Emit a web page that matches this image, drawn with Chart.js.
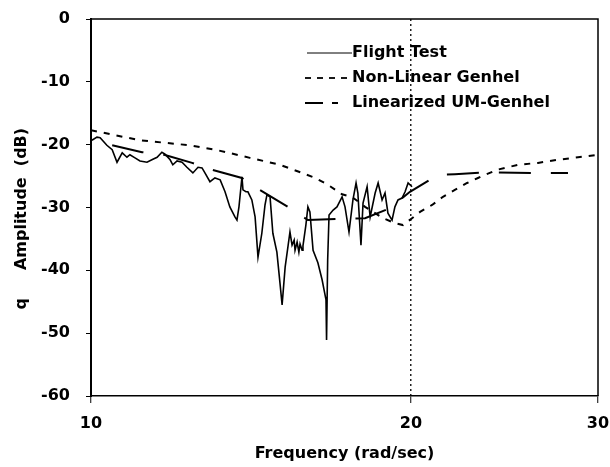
<!DOCTYPE html>
<html>
<head>
<meta charset="utf-8">
<title>q Amplitude</title>
<script src="https://cdn.jsdelivr.net/npm/chart.js@4/dist/chart.umd.min.js"></script>
<style>
    html, body { margin: 0; padding: 0; background: #fff; }
    #chart-box { width: 610px; height: 467px; }
</style>
</head>
<body>
<div id="chart-box"><canvas id="amp-chart" width="610" height="467"></canvas></div>
<script>
// ── 數據 (rad/sec, dB) ──
const flightFreq = [
    10.02, 10.13, 10.20, 10.35, 10.47, 10.58, 10.70, 10.81, 10.88, 11.00,
    11.12, 11.29, 11.41, 11.54, 11.66, 11.74, 11.87, 11.94, 12.05, 12.18,
    12.31, 12.47, 12.61, 12.72, 12.80, 12.94, 13.08, 13.23, 13.37, 13.51,
    13.66, 13.72, 13.78, 13.84, 13.87, 13.90, 13.99, 14.05, 14.17, 14.27,
    14.36, 14.48, 14.58, 14.64, 14.74, 14.83, 14.96, 15.06, 15.13, 15.23,
    15.33, 15.39, 15.46, 15.53, 15.56, 15.63, 15.69, 15.73, 15.80, 15.83,
    15.93, 16.00, 16.07, 16.18, 16.35, 16.50, 16.57, 16.64, 16.66, 16.70,
    16.75, 16.90, 17.04, 17.23, 17.34, 17.49, 17.64, 17.76, 17.83, 17.95,
    18.03, 18.19, 18.31, 18.51, 18.63, 18.79, 18.91, 19.03, 19.20, 19.32,
    19.45, 19.62, 19.75, 19.88, 20.05
];
const flightAmp = [
    -19.3, -18.8, -18.9, -20.1, -20.8, -22.8, -21.3, -22.0, -21.6, -22.1,
    -22.6, -22.8, -22.4, -22.0, -21.2, -21.5, -22.4, -23.2, -22.6, -22.8,
    -23.6, -24.5, -23.6, -23.7, -24.5, -25.9, -25.3, -25.6, -27.5, -29.9,
    -31.5, -32.0, -29.9, -26.7, -25.1, -27.2, -27.5, -27.5, -28.8, -31.5,
    -37.9, -34.1, -29.6, -28.0, -28.3, -34.1, -37.1, -42.0, -45.5, -39.5,
    -36.0, -33.9, -36.0, -35.2, -36.8, -35.5, -37.1, -35.8, -36.8, -36.1,
    -32.8, -29.9, -30.7, -36.8, -38.8, -41.5, -43.1, -44.7, -51.1, -38.4,
    -31.2, -30.4, -29.9, -28.3, -29.9, -33.9, -28.8, -26.1, -27.7, -36.0,
    -29.3, -26.7, -31.5, -27.7, -26.1, -28.8, -27.7, -30.9, -32.0, -29.9,
    -28.8, -28.5, -27.5, -26.1, -26.7
];

const nonlinFreq = [
    10.00, 11.12, 12.39, 13.17, 14.11, 15.06, 15.80, 16.25, 16.68, 17.23,
    17.60, 18.11, 18.51, 18.83, 19.32, 19.66, 20.05, 20.40, 20.94, 21.44,
    22.00, 22.59, 23.13, 24.10, 25.23, 26.34, 27.51, 28.73, 30.00
];
const nonlinAmp = [
    -17.7, -19.3, -20.1, -20.9, -22.1, -23.2, -24.5, -25.3, -26.3, -27.9,
    -28.3, -29.9, -30.9, -31.7, -32.5, -32.8, -31.7, -30.7, -29.6, -28.3,
    -27.2, -26.1, -25.3, -24.0, -23.2, -22.9, -22.4, -22.0, -21.6
];

const linFreq = [
    10.47, 11.17, 11.66, 12.45, 13.00, 13.87, 14.42, 15.39, 16.00, 17.15,
    18.11, 19.12, 19.96, 21.21, 22.00, 23.59, 26.17, 28.11
];
const linAmp = [
    -20.1, -21.2, -21.5, -22.9, -24.0, -25.3, -27.2, -30.1, -32.0, -31.8,
    -31.7, -30.1, -27.5, -24.8, -24.7, -24.4, -24.5, -24.5
];

const xTicks = [10, 20, 30];
const seriesNames = ['Flight Test', 'Non-Linear Genhel', 'Linearized UM-Genhel'];

const FONT = { family: '"DejaVu Sans", sans-serif', size: 16, weight: 'bold' };

const toPoints = (xs, ys) => xs.map((x, i) => ({ x: x, y: ys[i] }));

// ── 外框 + 圖例 ──
const framePlugin = {
    id: 'frameLegend',
    afterDatasetsDraw(chart, args, opts) {
        const { ctx, chartArea: a } = chart;
        ctx.save();
        ctx.strokeStyle = '#000';
        ctx.lineWidth = 1.5;
        ctx.beginPath();
        ctx.moveTo(a.left, a.top);
        ctx.lineTo(a.right, a.top);
        ctx.lineTo(a.right, a.bottom);
        ctx.stroke();

        // 自訂圖例
        ctx.font = `bold ${FONT.size}px ${FONT.family}`;
        ctx.fillStyle = '#000';
        ctx.textBaseline = 'middle';
        chart.data.datasets.forEach((ds, i) => {
            const y = opts.y0 + i * opts.dy;
            const s = opts.samples[i];
            ctx.lineWidth = s.width;
            ctx.setLineDash(s.dash);
            ctx.beginPath();
            ctx.moveTo(s.x0, y);
            ctx.lineTo(s.x1, y);
            ctx.stroke();
            ctx.setLineDash([]);
            ctx.fillText(ds.label, opts.textX, y);
        });
        ctx.restore();
    }
};

new Chart(document.getElementById('amp-chart').getContext('2d'), {
    type: 'line',
    data: {
        datasets: [
            {
                label: seriesNames[0],
                data: toPoints(flightFreq, flightAmp),
                borderColor: '#000',
                borderWidth: 1.6,
                pointRadius: 0,
                tension: 0
            },
            {
                label: seriesNames[1],
                data: toPoints(nonlinFreq, nonlinAmp),
                borderColor: '#000',
                borderWidth: 2,
                borderDash: [6, 7],
                pointRadius: 0,
                tension: 0
            },
            {
                label: seriesNames[2],
                data: toPoints(linFreq, linAmp),
                borderColor: '#000',
                borderWidth: 2,
                borderDash: [32, 20],
                pointRadius: 0,
                tension: 0
            }
        ]
    },
    options: {
        responsive: false,
        animation: false,
        devicePixelRatio: 1,
        layout: { padding: { left: 0, top: 19, right: 12, bottom: 0 } },
        plugins: {
            legend: { display: false },
            tooltip: { enabled: false },
            frameLegend: {
                y0: 53,
                dy: 25,
                textX: 352,
                samples: [
                    { x0: 307, x1: 352, dash: [], width: 1 },
                    { x0: 305, x1: 350, dash: [6, 6], width: 1.8 },
                    { x0: 305, x1: 339, dash: [18, 9, 6, 100], width: 1.8 }
                ]
            }
        },
        scales: {
            x: {
                type: 'logarithmic',
                min: 10,
                max: 30,
                afterBuildTicks: scale => { scale.ticks = xTicks.map(v => ({ value: v })); },
                afterFit: scale => {
                    scale.height = 71;
                    scale.paddingLeft = 0;
                    scale.paddingRight = 0;
                },
                ticks: {
                    autoSkip: false,
                    maxRotation: 0,
                    padding: 11,
                    color: '#000',
                    font: FONT,
                    callback: v => String(v)
                },
                grid: {
                    drawOnChartArea: true,
                    drawTicks: true,
                    tickLength: 7,
                    lineWidth: 1.5,
                    color: ctx => (ctx.tick && ctx.tick.value === 20) ? '#222' : 'rgba(0,0,0,0)',
                    tickColor: '#000',
                    tickWidth: 1
                },
                border: { display: true, color: '#000', width: 1.5, dash: [2, 3] },
                title: {
                    display: true,
                    text: 'Frequency (rad/sec)',
                    color: '#000',
                    font: FONT,
                    padding: { top: 0, bottom: 4 }
                }
            },
            y: {
                type: 'linear',
                min: -60,
                max: 0,
                afterFit: scale => {
                    scale.width = 91;
                    scale.paddingTop = 0;
                    scale.paddingBottom = 0;
                },
                ticks: {
                    stepSize: 10,
                    padding: 16,
                    color: '#000',
                    font: FONT
                },
                grid: {
                    drawOnChartArea: false,
                    drawTicks: true,
                    tickLength: 5,
                    tickColor: '#000',
                    tickWidth: 1
                },
                border: { display: true, color: '#000', width: 2 },
                title: {
                    display: true,
                    text: 'q     Amplitude  (dB)    ',
                    color: '#000',
                    font: FONT,
                    padding: { top: 12, bottom: 0 }
                }
            }
        }
    },
    plugins: [framePlugin]
});
</script>
</body>
</html>
